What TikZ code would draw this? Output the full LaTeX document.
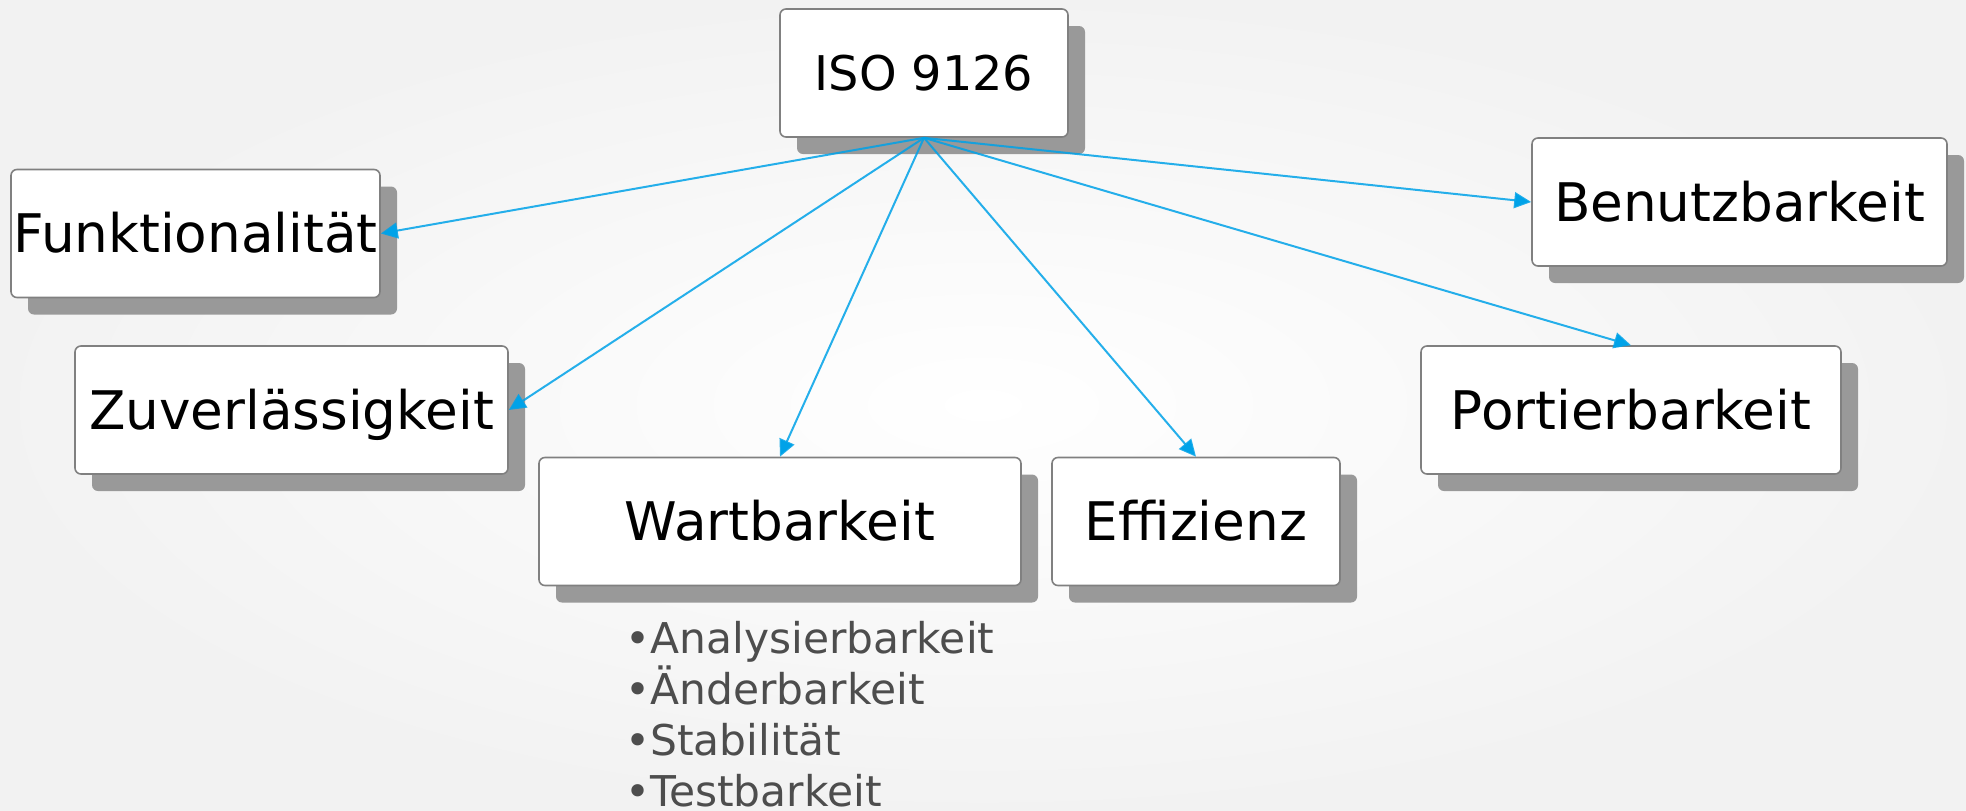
\documentclass[tikz,border=0pt]{standalone}
\usepackage{fontspec}
\setmainfont{DejaVu Sans}
\usetikzlibrary{arrows.meta,shadows}
\definecolor{linkblue}{RGB}{0,162,232}
\definecolor{boxline}{RGB}{128,128,128}
\definecolor{listgray}{RGB}{77,77,77}

\begin{document}
\begin{tikzpicture}[>={Triangle[length=8.5pt,width=8pt]},x=0.5pt,y=-0.5pt,
	box/.style={draw=boxline,line width=0.8pt,fill=white,rounded corners=3pt,
		inner sep=0pt,minimum height=64pt,text height=19.4pt,text depth=0pt,
		font=\fontsize{26.6}{31}\selectfont,
		drop shadow={shadow xshift=8.5pt,shadow yshift=-8.5pt,fill=black!40,opacity=1}},
	link/.style={->,draw=linkblue,line width=1pt,draw opacity=0.85}]
			\useasboundingbox (0,0) rectangle (1966,810);
			\shade[inner color=white,outer color=black!5] (0,0) rectangle (1966,810);
			
			\node[box,minimum width=144pt,font=\fontsize{23.9}{28}\selectfont,text height=17.4pt] (iso) at (924,73) {ISO 9126};
			\node[box,minimum width=184.5pt] (funk) at (195.5,233.5) {Funktionalität};
			\node[box,minimum width=216.5pt] (zuver) at (291.5,410) {Zuverlässigkeit};
			\node[box,minimum width=241pt] (wart) at (780,521.5) {Wartbarkeit};
			\node[box,minimum width=144pt] (effiz) at (1196,521.5) {Effizienz};
			\node[box,minimum width=210pt] (port) at (1631,410) {Portierbarkeit};
			\node[box,minimum width=207.5pt] (benutz) at (1739.5,202) {Benutzbarkeit};
			
			\node[anchor=north west,inner sep=0pt,align=left,text=listgray,
				font=\fontsize{21.2}{25.5}\selectfont] (wlist) at (625,621)
				{•Analysierbarkeit\\•Änderbarkeit\\•Stabilität\\•Testbarkeit};
			
			\draw[link] (iso.south) -- (funk.east);
			\draw[link] (iso.south) -- (zuver.east);
			\draw[link] (iso.south) -- (wart.north);
			\draw[link] (iso.south) -- (effiz.north);
			\draw[link] (iso.south) -- (port.north);
			\draw[link] (iso.south) -- (benutz.west);
	\end{tikzpicture}
\end{document}
